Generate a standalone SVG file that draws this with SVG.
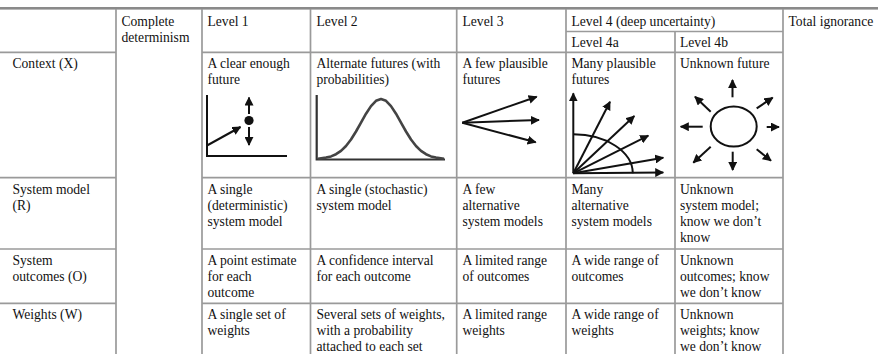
<svg xmlns="http://www.w3.org/2000/svg" width="878" height="354" viewBox="0 0 878 354">
<style>
text{font-family:"Liberation Serif","Times New Roman",serif;font-size:13.6px;fill:#111}
.g{stroke:#9a9a9a;stroke-width:1.7;fill:none}
.k{stroke:#111;stroke-width:2;fill:none}
.ka{stroke:#111;stroke-width:2;fill:none;marker-end:url(#ah)}
</style>
<defs>
<marker id="ah" viewBox="0 0 10 10" refX="9" refY="5" markerWidth="9" markerHeight="9" markerUnits="userSpaceOnUse" orient="auto"><path d="M0,0 L10,5 L0,10 z" fill="#111"/></marker>
</defs>
<rect width="878" height="354" fill="#fff"/>
<g id="grid">
<rect x="0" y="7" width="878" height="2.6" fill="#8a8a8a"/>
<path class="g" d="M116,9V354M202,9V354M310.5,9V354M456.7,9V354M566,9V354M675,31.5V354M783,9V354"/>
<path class="g" d="M566,31.5H783M0,52.3H116M202,52.3H783M0,177.6H116M202,177.6H783M0,249H116M202,249H783M0,303.3H116M202,303.3H783"/>
</g>
<g id="header">
<text x="121.5" y="26">Complete<tspan x="121.5" dy="16">determinism</tspan></text>
<text x="207.5" y="26">Level 1</text>
<text x="316.5" y="26">Level 2</text>
<text x="462.5" y="26">Level 3</text>
<text x="571.5" y="26">Level 4 (deep uncertainty)</text>
<text x="571.5" y="46.5">Level 4a</text>
<text x="680" y="46.5">Level 4b</text>
<text x="788.5" y="26">Total ignorance</text>
</g>
<g id="row-context">
<text x="12.5" y="68">Context (X)</text>
<text x="207.5" y="68">A clear enough<tspan x="207.5" dy="16">future</tspan></text>
<text x="316.5" y="68">Alternate futures (with<tspan x="316.5" dy="16">probabilities)</tspan></text>
<text x="462.5" y="68">A few plausible<tspan x="462.5" dy="16">futures</tspan></text>
<text x="571.5" y="68">Many plausible<tspan x="571.5" dy="16">futures</tspan></text>
<text x="680" y="68">Unknown future</text>
</g>
<g id="fig-level1">
<path class="k" d="M207,95V156H287"/>
<line class="ka" x1="207" y1="145.5" x2="240.5" y2="127"/>
<circle cx="249" cy="120.5" r="4.6" fill="#111"/>
<line class="ka" x1="249" y1="114" x2="249" y2="97.5"/>
<line class="ka" x1="249" y1="127" x2="249" y2="145"/>
</g>
<g id="fig-level2">
<path d="M316.7,95V159.5H445" fill="none" stroke="#333" stroke-width="2.2"/>
<path d="M318,158.8 L326,157.6 L331,156.4 L336,154.2 L341,150.9 L346,146 L351,139.5 L356,131.5 L361,122.6 L366,113.7 L371,106.1 L376,100.8 L381,99 L386,100.8 L391,106.1 L396,113.7 L401,122.6 L406,131.5 L411,139.5 L416,146 L421,150.9 L426,154.2 L431,156.4 L436,157.6 L444,158.8" fill="none" stroke="#444" stroke-width="2.6" stroke-linejoin="round"/>
</g>
<g id="fig-level3">
<line class="ka" x1="462.3" y1="122.7" x2="536.7" y2="96.7"/>
<line class="ka" x1="462.3" y1="122.7" x2="539" y2="120"/>
<line class="ka" x1="462.3" y1="122.7" x2="535.7" y2="142.3"/>
</g>
<g id="fig-level4a">
<path class="k" d="M573.3,134.3 A59.5 39 0 0 1 632.8,173.3"/>
<line class="ka" x1="573.3" y1="173.3" x2="573.3" y2="93.3"/>
<line class="ka" x1="573.3" y1="173.3" x2="610" y2="101.7"/>
<line class="ka" x1="573.3" y1="173.3" x2="634.3" y2="116"/>
<line class="ka" x1="573.3" y1="173.3" x2="648.3" y2="135.7"/>
<line class="ka" x1="573.3" y1="173.3" x2="663.3" y2="157.7"/>
<line class="ka" x1="573.3" y1="173.3" x2="663.3" y2="172.5"/>
</g>
<g id="fig-level4b">
<ellipse class="k" cx="733.7" cy="126.5" rx="23" ry="20"/>
<line class="ka" x1="732.5" y1="97.3" x2="732.5" y2="80"/>
<line class="ka" x1="702.7" y1="126.7" x2="680.7" y2="126.7"/>
<line class="ka" x1="766.7" y1="127" x2="779" y2="127"/>
<line class="ka" x1="732.7" y1="151.7" x2="732.7" y2="170"/>
<line class="ka" x1="710.7" y1="111.7" x2="695" y2="96.7"/>
<line class="ka" x1="756.7" y1="108.3" x2="772.7" y2="97.7"/>
<line class="ka" x1="710.7" y1="146.7" x2="693.3" y2="162.7"/>
<line class="ka" x1="756.7" y1="149.3" x2="771" y2="160.7"/>
</g>
<g id="row-model">
<text x="12.5" y="194">System model<tspan x="12.5" dy="16">(R)</tspan></text>
<text x="207.5" y="194">A single<tspan x="207.5" dy="16">(deterministic)</tspan><tspan x="207.5" dy="16">system model</tspan></text>
<text x="316.5" y="194">A single (stochastic)<tspan x="316.5" dy="16">system model</tspan></text>
<text x="462.5" y="194">A few<tspan x="462.5" dy="16">alternative</tspan><tspan x="462.5" dy="16">system models</tspan></text>
<text x="571.5" y="194">Many<tspan x="571.5" dy="16">alternative</tspan><tspan x="571.5" dy="16">system models</tspan></text>
<text x="680" y="194">Unknown<tspan x="680" dy="16">system model;</tspan><tspan x="680" dy="16">know we don’t</tspan><tspan x="680" dy="16">know</tspan></text>
</g>
<g id="row-outcomes">
<text x="12.5" y="264.5">System<tspan x="12.5" dy="16">outcomes (O)</tspan></text>
<text x="207.5" y="264.5">A point estimate<tspan x="207.5" dy="16">for each</tspan><tspan x="207.5" dy="16">outcome</tspan></text>
<text x="316.5" y="264.5">A confidence interval<tspan x="316.5" dy="16">for each outcome</tspan></text>
<text x="462.5" y="264.5">A limited range<tspan x="462.5" dy="16">of outcomes</tspan></text>
<text x="571.5" y="264.5">A wide range of<tspan x="571.5" dy="16">outcomes</tspan></text>
<text x="680" y="264.5">Unknown<tspan x="680" dy="16">outcomes; know</tspan><tspan x="680" dy="16">we don’t know</tspan></text>
</g>
<g id="row-weights">
<text x="12.5" y="319">Weights (W)</text>
<text x="207.5" y="319">A single set of<tspan x="207.5" dy="16">weights</tspan></text>
<text x="316.5" y="319">Several sets of weights,<tspan x="316.5" dy="16">with a probability</tspan><tspan x="316.5" dy="16">attached to each set</tspan></text>
<text x="462.5" y="319">A limited range<tspan x="462.5" dy="16">weights</tspan></text>
<text x="571.5" y="319">A wide range of<tspan x="571.5" dy="16">weights</tspan></text>
<text x="680" y="319">Unknown<tspan x="680" dy="16">weights; know</tspan><tspan x="680" dy="16">we don’t know</tspan></text>
</g>
</svg>
